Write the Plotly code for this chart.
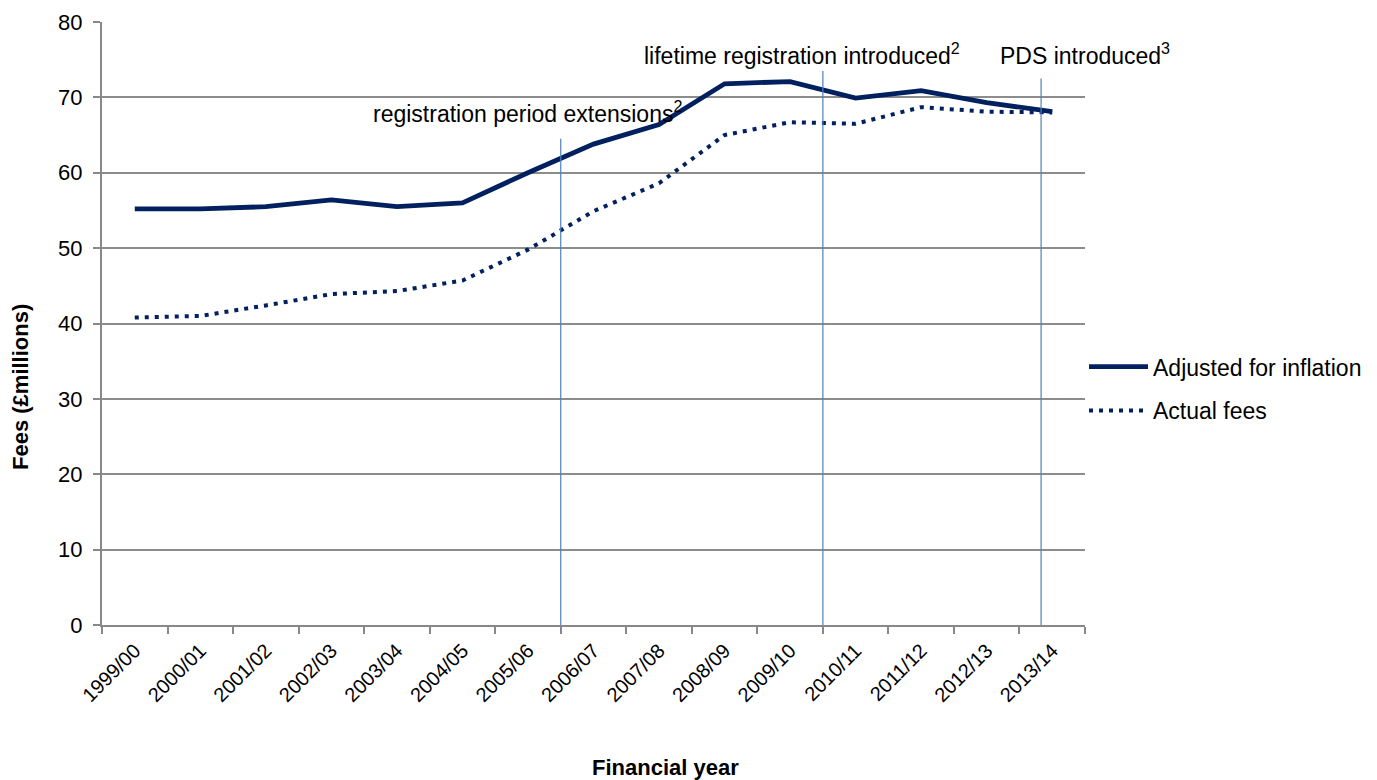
import plotly.graph_objects as go

years = ["1999/00", "2000/01", "2001/02", "2002/03", "2003/04", "2004/05", "2005/06",
         "2006/07", "2007/08", "2008/09", "2009/10", "2010/11", "2011/12", "2012/13", "2013/14"]
adjusted = [55.2, 55.2, 55.5, 56.4, 55.5, 56.0, 60.0, 63.8, 66.4, 71.8, 72.1, 69.9, 70.9, 69.3, 68.1]
actual = [40.8, 41.0, 42.4, 43.9, 44.3, 45.7, 49.8, 54.9, 58.6, 65.0, 66.7, 66.5, 68.7, 68.1, 68.0]

# event markers (x in category-index units, top of the marker line in data units)
events_x = [6.5, 10.5, 13.83]
events_top = [64.5, 73.5, 72.5]
event_labels = ["registration period extensions<sup>2</sup>",
                "lifetime registration introduced<sup>2</sup>",
                "PDS introduced<sup>3</sup>"]

NAVY = "#002060"
FONT = "Liberation Sans, Arial, sans-serif"

# page body has an 8px margin; compensate so the plot lands where the reference has it
OFF = 8
L, T, R, B = 102, 22, 1085, 625          # target plot area in page pixels
W, H = 1377, 780
plot_w, plot_h = R - L, B - T


def px(x):
    return (x - L) / plot_w


def py(y):
    return (B - y) / plot_h


label_pos = [(527, 112), (802, 54), (1085, 54)]

fig = go.Figure()
fig.add_trace(go.Scatter(x=years, y=adjusted, mode="lines", name="Adjusted for inflation",
                         line=dict(color=NAVY, width=4.8), legendgroup="a"))
fig.add_trace(go.Scatter(x=years, y=actual, mode="lines", name="Actual fees",
                         line=dict(color=NAVY, width=4, dash="4px,6px"), legendgroup="b"))

for ex, et in zip(events_x, events_top):
    fig.add_shape(type="line", xref="x", yref="y", x0=ex, x1=ex, y0=0, y1=et,
                  line=dict(color="#4F81BD", width=1.2))

for t, (lx, ly) in zip(event_labels, label_pos):
    fig.add_annotation(x=px(lx), y=py(ly), xref="paper", yref="paper", text=t,
                       showarrow=False, xanchor="center", yanchor="middle",
                       font=dict(size=23, color="black", family=FONT))

fig.add_annotation(x=px(665), y=py(767), xref="paper", yref="paper",
                   text="<b>Financial year</b>", showarrow=False,
                   xanchor="center", yanchor="middle",
                   font=dict(size=22, color="black", family=FONT))
fig.add_annotation(x=px(20), y=py(387), xref="paper", yref="paper",
                   text="<b>Fees (£millions)</b>", textangle=-90, showarrow=False,
                   xanchor="center", yanchor="middle",
                   font=dict(size=22, color="black", family=FONT))

fig.update_layout(
    width=W, height=H,
    margin=dict(l=L - OFF, r=W - (R - OFF), t=T - OFF, b=H - (B - OFF), autoexpand=False),
    paper_bgcolor="white", plot_bgcolor="white",
    font=dict(family=FONT, color="black"),
    showlegend=True,
    legend=dict(x=0.999, y=0.392, xanchor="left", yanchor="middle",
                font=dict(size=23, family=FONT, color="black"),
                tracegroupgap=11, traceorder="grouped", itemwidth=59,
                bgcolor="rgba(0,0,0,0)"),
    xaxis=dict(type="category", range=[-0.5, 14.5], tickson="boundaries",
               showline=True, linecolor="#888888", linewidth=2,
               ticks="outside", ticklen=7, tickcolor="#888888", tickwidth=2,
               showgrid=False, tickangle=-45, tickfont=dict(size=20, family=FONT),
               ticklabelstandoff=4),
    yaxis=dict(range=[0, 80], dtick=10, showline=True, linecolor="#888888", linewidth=2,
               ticks="outside", ticklen=7, tickcolor="#888888", tickwidth=2,
               showgrid=True, gridcolor="#8c8c8c", gridwidth=1.5, zeroline=False,
               tickfont=dict(size=22, family=FONT), ticklabelstandoff=6),
)

fig.write_html("out.html")
